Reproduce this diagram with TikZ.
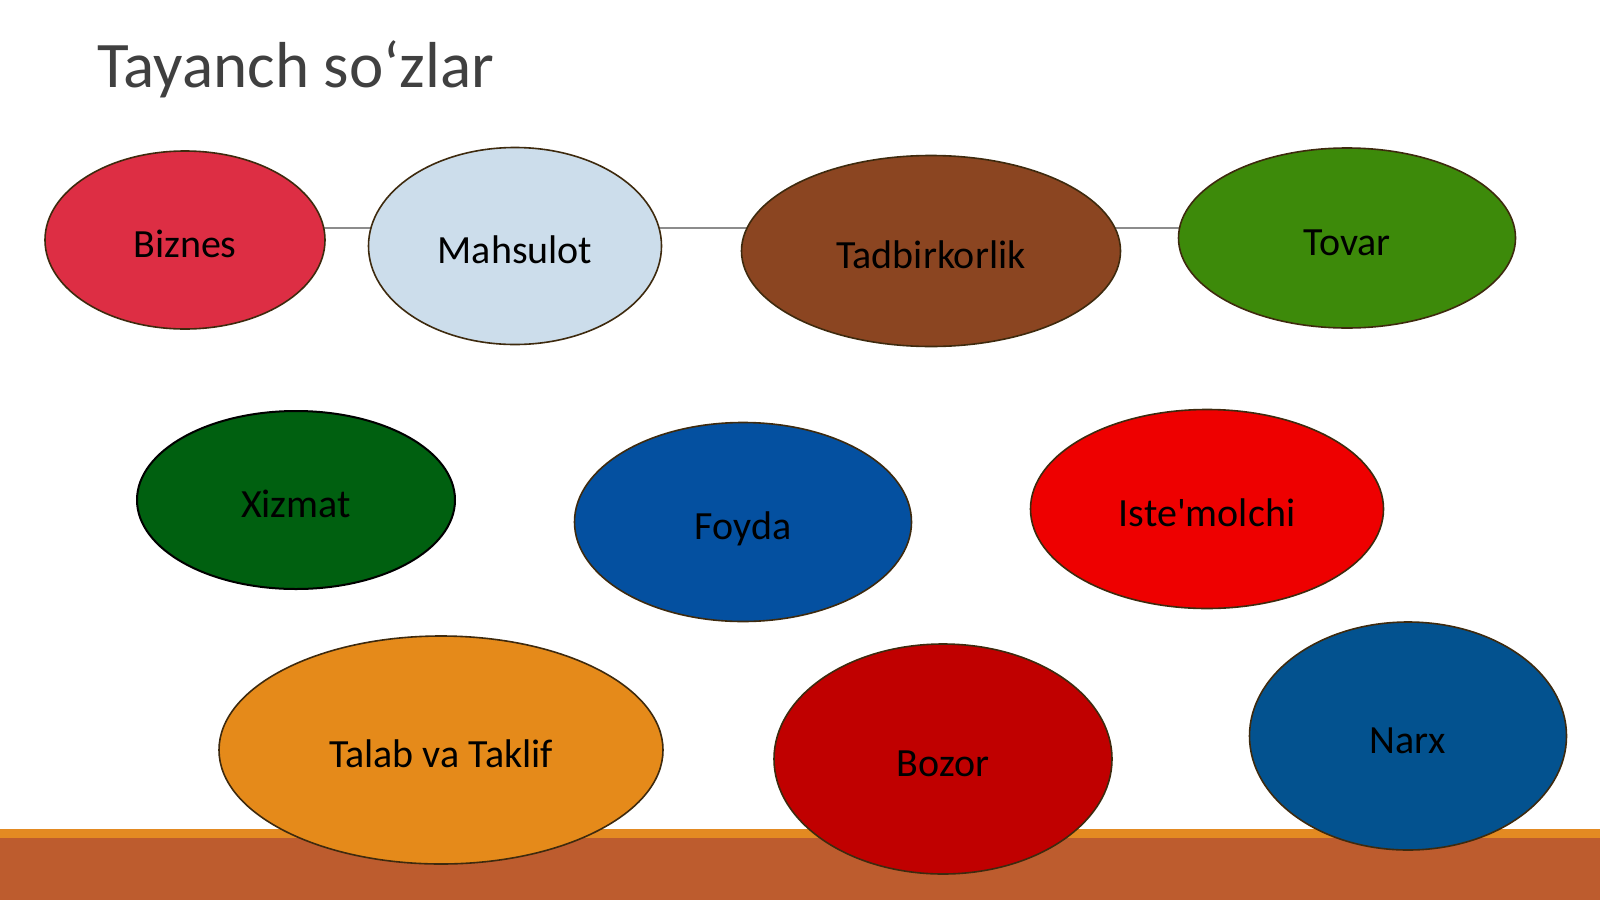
\documentclass[tikz,border=0pt]{standalone}
\usepackage{fontspec}
\setmainfont{Carlito}
\usetikzlibrary{shapes.geometric,backgrounds}
\definecolor{titlegray}{HTML}{404040}
\definecolor{ovalline}{HTML}{3E2A0E}
\definecolor{linkgray}{HTML}{8C8C8C}
\definecolor{barlight}{HTML}{E38A22}
\definecolor{bardark}{HTML}{BD5C2E}
\definecolor{biznesred}{HTML}{DD2E44}
\definecolor{mahsulotblue}{HTML}{CCDDEB}
\definecolor{tadbirbrown}{HTML}{8B4521}
\definecolor{tovargreen}{HTML}{3D8A0A}
\definecolor{xizmatgreen}{HTML}{006010}
\definecolor{foydablue}{HTML}{0450A0}
\definecolor{istered}{HTML}{EE0000}
\definecolor{talaborange}{HTML}{E58A1A}
\definecolor{bozorred}{HTML}{C00000}
\definecolor{narxblue}{HTML}{03528F}
\begin{document}
\begin{tikzpicture}[x=0.5pt,y=-0.5pt,
  oval/.style={ellipse,draw=ovalline,line width=0.8pt,inner sep=0pt,
    font=\fontsize{20}{24}\selectfont,text height=17pt,text depth=0pt},
  link/.style={draw=linkgray,line width=0.75pt}]
\useasboundingbox (0,0) rectangle (1600,900);
\fill[barlight] (0,829) rectangle (1600,838);
\fill[bardark] (0,838) rectangle (1600,900);
\node[anchor=base west,inner sep=0pt,text=titlegray,
  font=\fontsize{32.5}{38}\selectfont] (title) at (97,87) {Tayanch so‘zlar};
\node[oval,fill=biznesred,minimum width=140pt,minimum height=89pt] (biznes) at (185,240) {Biznes};
\node[oval,fill=mahsulotblue,minimum width=146.5pt,minimum height=98.5pt] (mahsulot) at (515,246) {Mahsulot};
\node[oval,fill=tadbirbrown,minimum width=189.5pt,minimum height=95.5pt] (tadbir) at (931,251) {Tadbirkorlik};
\node[oval,fill=tovargreen,minimum width=168.5pt,minimum height=90pt] (tovar) at (1347,238) {Tovar};
\node[oval,fill=xizmatgreen,draw=black,line width=1pt,minimum width=159pt,minimum height=89pt] (xizmat) at (296,500) {Xizmat};
\node[oval,fill=foydablue,minimum width=168.5pt,minimum height=99.5pt] (foyda) at (743,522) {Foyda};
\node[oval,fill=istered,minimum width=176.5pt,minimum height=99.5pt] (iste) at (1207,509) {Iste\textquotesingle molchi};
\node[oval,fill=talaborange,minimum width=222pt,minimum height=114pt] (talab) at (441,750) {Talab va Taklif};
\node[oval,fill=bozorred,minimum width=169pt,minimum height=115pt] (bozor) at (943,759) {Bozor};
\node[oval,fill=narxblue,minimum width=158.5pt,minimum height=114pt] (narx) at (1408,736) {Narx};
\coordinate (bus) at (0,228);
\begin{scope}[on background layer]
\draw[link] (biznes.center |- bus) -- (mahsulot.center |- bus);
\draw[link] (mahsulot.center |- bus) -- (tadbir.center |- bus);
\draw[link] (tadbir.center |- bus) -- (tovar.center |- bus);
\end{scope}
\end{tikzpicture}
\end{document}
